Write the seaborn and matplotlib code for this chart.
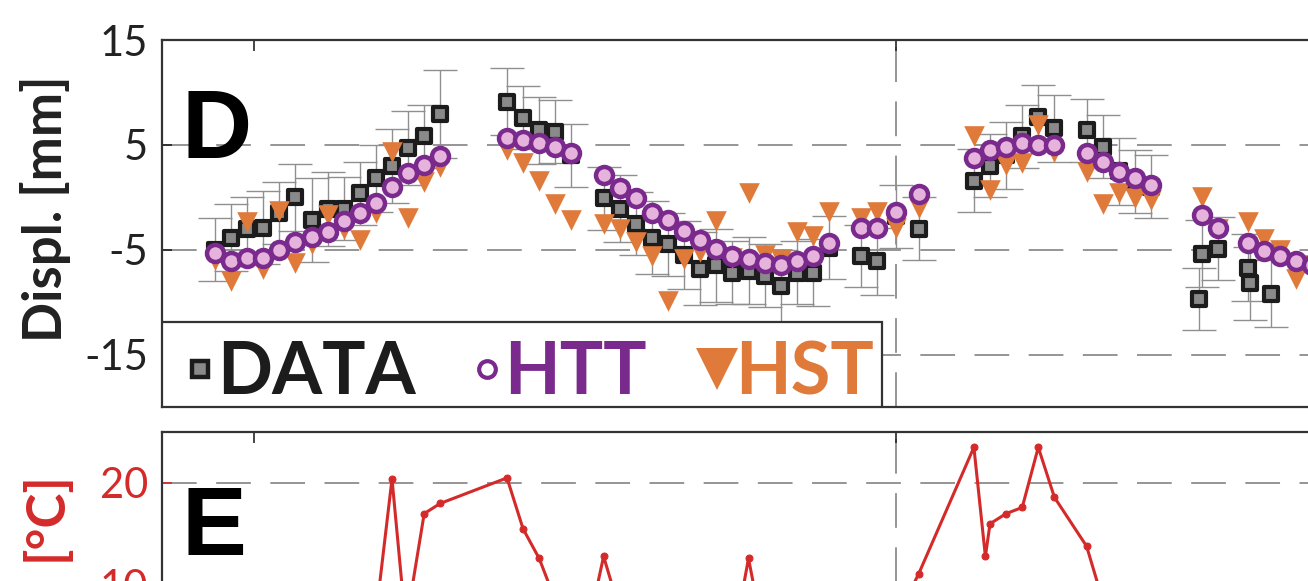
import numpy as np
import matplotlib
matplotlib.use("Agg")
import matplotlib.pyplot as plt
from matplotlib.lines import Line2D
from matplotlib.patches import Rectangle
import seaborn as sns

# sample dates (days from start of monitoring)
days = [23, 30, 37, 44, 51, 58, 65, 72, 79, 86, 93, 100, 107, 114, 121,
        150, 157, 164, 171, 178, 192, 199, 206, 213, 220, 227, 234, 241, 248,
        255, 262, 269, 276, 283, 290,
        304, 311, 319, 329,
        353, 360, 367, 374, 381, 388, 402, 409, 416, 423, 430,
        452, 459, 472, 479, 486, 493, 500]

# model displacements [mm]
htt = [-5.3, -6.1, -5.8, -5.8, -5.0, -4.3, -3.8, -3.3, -2.3, -1.5, -0.5, 1.0, 2.3, 3.1, 3.9,
       5.7, 5.5, 5.2, 4.8, 4.2, 2.1, 0.9, -0.1, -1.5, -2.2, -3.2, -4.1, -4.9, -5.6,
       -5.9, -6.25, -6.5, -6.1, -5.6, -4.4,
       -2.9, -2.9, -1.4, 0.3,
       3.75, 4.5, 4.8, 5.2, 5.0, 5.0, 4.2, 3.4, 2.4, 1.8, 1.2,
       -1.7, -2.9, -4.4, -5.1, -5.6, -6.1, -6.5]
hst = [-6.0, -8.0, -2.4, -6.8, -1.3, -6.3, -4.5, -1.7, -3.0, -4.1, -1.5, 4.3, -2.0, 1.5, 2.9,
       4.5, 3.3, 1.6, -0.6, -2.2, -2.5, -3.0, -4.3, -5.6, -9.9, -5.9, -5.2, -2.3, -5.8,
       0.4, -5.5, -6.0, -3.3, -3.7, -1.4,
       -2.0, -1.4, -2.9, -1.0,
       5.8, 0.7, 3.1, 3.3, 6.9, 4.3, 2.4, -0.6, 0.4, -0.1, -0.3,
       0.0, -3.0, -2.4, -4.0, -5.0, -7.8, -6.5]

# measured displacements [mm] with uncertainty
data_days = [23, 30, 37, 44, 51, 58, 65, 72, 79, 86, 93, 100, 107, 114, 121,
             150, 157, 164, 171, 178, 192, 199, 206, 213, 220, 227, 234, 241, 248,
             255, 262, 269, 276, 283, 290,
             304, 311, 319, 329,
             353, 360, 367, 374, 381, 388, 402, 409, 416, 423, 430,
             451, 452, 459, 472, 473, 482]
data_vals = [-5.0, -3.85, -3.0, -2.9, -1.5, 0.0, -2.2, -1.1, -1.1, 0.4, 1.8, 3.0, 4.7, 5.8, 7.9,
             9.1, 7.6, 6.4, 6.25, 4.0, -0.1, -1.1, -2.5, -3.85, -4.5, -5.5, -6.8, -6.5, -7.2,
             -7.0, -7.5, -8.5, -7.2, -7.2, -4.8,
             -5.6, -6.1, -1.8, -3.0,
             1.6, 3.0, 4.0, 5.8, 7.7, 6.6, 6.4, 4.8, 2.5, 1.5, 1.0,
             -9.7, -5.4, -4.9, -6.7, -8.2, -9.2]
data_err = [3.0, 3.2, 3.0, 3.5, 3.0, 3.2, 4.0, 3.5, 3.0, 3.0, 3.2, 3.5, 3.5, 3.0, 4.2,
            3.2, 3.0, 3.2, 3.0, 3.0, 3.0, 3.2, 3.0, 3.5, 3.0, 3.2, 3.5, 3.5, 3.0,
            3.2, 3.0, 3.5, 3.0, 3.2, 3.0,
            3.0, 3.2, 3.0, 3.0,
            3.0, 3.0, 3.2, 3.0, 3.0, 3.2, 3.0, 3.0, 3.2, 3.0, 3.0,
            3.0, 3.2, 3.0, 3.2, 3.5, 3.2]

# air temperature [°C]
temp_days = [23, 30, 37, 44, 51, 58, 65, 72, 79, 86, 93, 100, 106, 114, 121,
             150, 157, 164, 171, 178, 185, 192, 199, 206, 213, 220, 227, 234, 241,
             248, 255, 262, 269, 276, 283, 290, 304, 311, 319, 329,
             353, 358, 360, 367, 374, 381, 388, 402, 409, 416, 423, 430,
             452, 459, 472, 479, 486, 493, 500]
temp_vals = [8.5, 9.0, 7.5, 6.0, 9.5, 7.0, 5.5, 6.5, 4.5, 5.0, 7.0, 20.4, 6.0, 17.0, 18.0,
             20.5, 15.5, 12.6, 8.5, 6.0, 5.5, 12.8, 7.5, 6.0, 4.5, 3.5, 5.0, 3.0, 2.5,
             4.0, 12.6, 4.5, 3.0, 2.0, 3.5, 1.5, 2.5, 4.0, 6.5, 11.1,
             23.5, 12.8, 16.0, 17.0, 17.6, 23.5, 18.6, 13.8, 8.5, 9.0, 6.0, 7.5,
             5.0, 3.5, 6.0, 2.0, 4.0, 1.0, 3.0]

disp_ticks = [-15, -5, 5, 15]
temp_ticks = [10, 20]
year_line = 319

BLACK = "#1c1c1c"
PURPLE = "#7a2a8c"
ORANGE = "#df7a3a"
RED = "#d42a2a"

sns.set_theme(style="white")
plt.rcParams["font.family"] = ["Lato", "DejaVu Sans"]
plt.rcParams["axes.unicode_minus"] = False
plt.rcParams["lines.scale_dashes"] = False

fig = plt.figure(figsize=(13.08, 5.81), dpi=100)
W, H = 1308, 581
ax = fig.add_axes([162 / W, (H - 407) / H, 1242 / W, 367 / H])
ax2 = fig.add_axes([162 / W, (H - 687) / H, 1242 / W, 255 / H])

dash = (0, (25, 14))

# ---- panel D: displacement ----
ax.set_xlim(0, 540)
ax.set_ylim(-20, 15)
for yv in disp_ticks[:-1]:
    ax.axhline(yv, color="#8c8c8c", lw=1.3, ls=dash, zorder=0)
ax.axvline(year_line, color="#8c8c8c", lw=1.3, ls=dash, zorder=0)

ax.errorbar(data_days, data_vals, yerr=data_err, fmt="none", ecolor="#8f8f8f",
            elinewidth=1.0, capsize=12, capthick=1.0, zorder=1)
sns.scatterplot(x=data_days, y=data_vals, marker="s", s=110, color="#8a8a8a",
                edgecolor=BLACK, linewidth=3.0, ax=ax, zorder=2)
sns.scatterplot(x=days, y=hst, marker="v", s=220, color=ORANGE,
                edgecolor=ORANGE, linewidth=0, ax=ax, zorder=3)
sns.scatterplot(x=days, y=htt, marker="o", s=150, color="#e6b3dc",
                edgecolor=PURPLE, linewidth=3.2, ax=ax, zorder=4)

ax.set_yticks(disp_ticks)
ax.set_yticklabels([str(t) for t in disp_ticks])
ax.set_xticks([year_line])
ax.set_xticks([40], minor=True)
ax.tick_params(axis="y", direction="in", length=7, width=1.2, labelsize=30,
               pad=10, colors="#222", left=True)
ax.tick_params(axis="x", which="both", direction="in", length=8, width=1.2,
               top=True, bottom=False, labelbottom=False)
for sp in ax.spines.values():
    sp.set_color("#333")
    sp.set_linewidth(1.6)
ax.set_xlabel("")
ax.set_ylabel("Displ. [mm]", fontsize=38, fontweight="bold", color="#222")
ax.yaxis.set_label_coords(-0.0735, 0.54)

ax.text(0.016, 0.678, "D", transform=ax.transAxes, fontsize=70,
        fontweight="bold", family="Liberation Sans", color="black", va="baseline")

# legend box in the lower-left corner
ax.add_patch(Rectangle((0, 0), (882 - 162) / 1242, 85 / 367, transform=ax.transAxes,
                       facecolor="white", edgecolor="#333", lw=1.6, zorder=8))
handles = [
    Line2D([], [], ls="", marker="s", ms=12, mfc="#8a8a8a", mec=BLACK, mew=3.2),
    Line2D([], [], ls="", marker="o", ms=12, mfc="white", mec=PURPLE, mew=3),
    Line2D([], [], ls="", marker="v", ms=30, mfc=ORANGE, mec=ORANGE, mew=0),
]
leg = ax.legend(handles, ["DATA", "HTT", "HST"], ncol=3, loc="center left",
                bbox_to_anchor=(0.0, 33 / 367), borderaxespad=0, frameon=False,
                prop={"family": "Lato", "weight": "bold", "size": 52},
                labelcolor=[BLACK, PURPLE, ORANGE], handlelength=0.45,
                handletextpad=0.02, columnspacing=0.75, borderpad=0.3)
leg.set_zorder(9)

# ---- panel E: temperature ----
ax2.set_xlim(0, 540)
ax2.set_ylim(0, 25)
for yv in temp_ticks:
    ax2.axhline(yv, color="#8c8c8c", lw=1.3, ls=dash, zorder=0)
ax2.axvline(year_line, color="#8c8c8c", lw=1.3, ls=dash, zorder=0)
sns.lineplot(x=temp_days, y=temp_vals, color=RED, lw=2.2, marker="o", ms=5,
             mec=RED, sort=False, estimator=None, ax=ax2, zorder=3)
ax2.set_yticks(temp_ticks)
ax2.set_yticklabels([str(t) for t in temp_ticks])
ax2.set_xticks([year_line])
ax2.set_xticks([40], minor=True)
ax2.tick_params(axis="y", direction="in", length=7, width=1.2, labelsize=30,
                pad=10, colors=RED, left=True)
ax2.tick_params(axis="x", which="both", direction="in", length=8, width=1.2,
                top=True, bottom=False, labelbottom=False)
for sp in ax2.spines.values():
    sp.set_color("#333")
    sp.set_linewidth(1.6)
ax2.set_xlabel("")
ax2.set_ylabel("[°C]", fontsize=38, fontweight="bold", color=RED)
ax2.yaxis.set_label_coords(-0.0735, 0.67)
ax2.text(0.016, 0.518, "E", transform=ax2.transAxes, fontsize=70,
         fontweight="bold", family="Liberation Sans", color="black", va="baseline")

fig.savefig("out.png", dpi=100)
